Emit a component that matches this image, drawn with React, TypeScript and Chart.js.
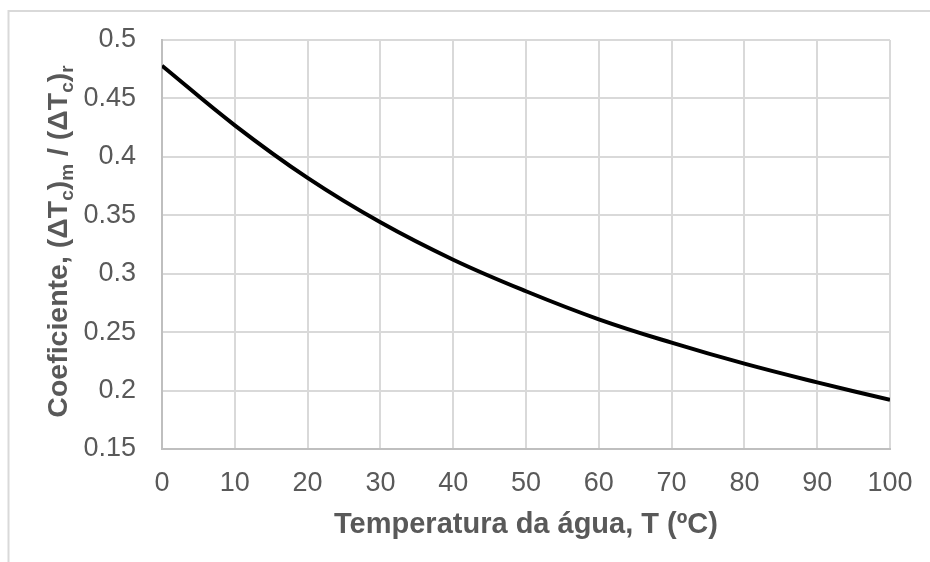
import React, { useEffect, useRef } from "react";
import { Chart, registerables } from "chart.js";

Chart.register(...registerables);

const TEMPS = [0, 10, 20, 30, 40, 50, 60, 70, 80, 90, 100];
const COEF = [0.478, 0.427, 0.382, 0.344, 0.312, 0.285, 0.261, 0.241, 0.223, 0.207, 0.192];
const X_TICKS = [0, 10, 20, 30, 40, 50, 60, 70, 80, 90, 100];
const X_LABELS = ["0", "10", "20", "30", "40", "50", "60", "70", "80", "90", "100"];
const Y_TICKS = [0.15, 0.2, 0.25, 0.3, 0.35, 0.4, 0.45, 0.5];
const Y_LABELS = ["0.15", "0.2", "0.25", "0.3", "0.35", "0.4", "0.45", "0.5"];
const X_TITLE = "Temperatura da água, T (ºC)";
const Y_TITLE_PARTS: { t: string; sub: boolean }[] = [
  { t: "Coeficiente, (ΔT", sub: false },
  { t: "c", sub: true },
  { t: ")", sub: false },
  { t: "m", sub: true },
  { t: " / (ΔT", sub: false },
  { t: "c", sub: true },
  { t: ")", sub: false },
  { t: "r", sub: true },
];

const FAMILY = '"Liberation Sans", Arial, sans-serif';
const TEXT = "#595959";
const GRID = "#d9d9d9";
const AXIS = "#bfbfbf";
const TICK_SIZE = 27;
const X_TITLE_SIZE = 29;
const Y_TITLE_SIZE = 28.5;

const decorPlugin = {
  id: "decor",
  beforeDraw(chart: any) {
    const ctx = chart.ctx;
    ctx.save();
    ctx.fillStyle = "#ffffff";
    ctx.fillRect(0, 0, chart.width, chart.height);
    ctx.strokeStyle = GRID;
    ctx.lineWidth = 2;
    ctx.beginPath();
    ctx.moveTo(8.5, chart.height);
    ctx.lineTo(8.5, 11);
    ctx.lineTo(chart.width, 11);
    ctx.stroke();
    ctx.restore();
  },
  afterDraw(chart: any) {
    const ctx = chart.ctx;
    const area = chart.chartArea;
    ctx.save();
    ctx.fillStyle = TEXT;
    ctx.font = `bold ${X_TITLE_SIZE}px ${FAMILY}`;
    ctx.textAlign = "center";
    ctx.textBaseline = "alphabetic";
    ctx.fillText(X_TITLE, (area.left + area.right) / 2, 533);

    // y title with subscripts
    const subSize = Math.round(Y_TITLE_SIZE * 0.66);
    const widths = Y_TITLE_PARTS.map((p) => {
      ctx.font = `bold ${p.sub ? subSize : Y_TITLE_SIZE}px ${FAMILY}`;
      return ctx.measureText(p.t).width;
    });
    const total = widths.reduce((a, b) => a + b, 0);
    ctx.translate(67, 241.5);
    ctx.rotate(-Math.PI / 2);
    ctx.textAlign = "left";
    let x = -total / 2;
    Y_TITLE_PARTS.forEach((p, i) => {
      ctx.font = `bold ${p.sub ? subSize : Y_TITLE_SIZE}px ${FAMILY}`;
      ctx.fillText(p.t, x, p.sub ? 6 : 0);
      x += widths[i];
    });
    ctx.restore();
  },
};

export default function App() {
  const ref = useRef<HTMLCanvasElement>(null);
  useEffect(() => {
    if (!ref.current) return;
    const chart = new Chart(ref.current, {
      type: "line",
      data: {
        datasets: [
          {
            data: TEMPS.map((t, i) => ({ x: t, y: COEF[i] })),
            borderColor: "#000000",
            borderWidth: 4,
            pointRadius: 0,
            tension: 0.4,
            fill: false,
          },
        ],
      },
      options: {
        responsive: false,
        animation: false,
        layout: { padding: { left: 0, top: 40, right: 40, bottom: 0 } },
        plugins: { legend: { display: false }, tooltip: { enabled: false } },
        scales: {
          x: {
            type: "linear",
            min: 0,
            max: 100,
            afterBuildTicks: (s: any) => {
              s.ticks = X_TICKS.map((v) => ({ value: v }));
            },
            afterFit: (s: any) => {
              s.height = 113;
              s.paddingLeft = 0;
              s.paddingRight = 0;
            },
            ticks: {
              padding: 18,
              color: TEXT,
              font: { family: FAMILY, size: TICK_SIZE },
              maxRotation: 0,
              autoSkip: false,
              callback: (v: any) => X_LABELS[X_TICKS.indexOf(Number(v))] ?? "",
            },
            grid: { color: GRID, lineWidth: 2, drawTicks: false },
            border: { color: AXIS, width: 2 },
          },
          y: {
            type: "linear",
            min: 0.15,
            max: 0.5,
            afterBuildTicks: (s: any) => {
              s.ticks = Y_TICKS.map((v) => ({ value: v }));
            },
            afterFit: (s: any) => {
              s.width = 162;
              s.paddingTop = 0;
              s.paddingBottom = 0;
            },
            ticks: {
              padding: 26,
              color: TEXT,
              font: { family: FAMILY, size: TICK_SIZE },
              autoSkip: false,
              callback: (v: any) => {
                const i = Y_TICKS.findIndex((t) => Math.abs(t - Number(v)) < 1e-9);
                return i >= 0 ? Y_LABELS[i] : "";
              },
            },
            grid: { color: GRID, lineWidth: 2, drawTicks: false },
            border: { color: AXIS, width: 2 },
          },
        },
      },
      plugins: [decorPlugin],
    } as any);
    return () => chart.destroy();
  }, []);
  return (
    <div style={{ position: "fixed", left: 0, top: 0, width: 930, height: 562, background: "#fff" }}>
      <canvas ref={ref} width={930} height={562} style={{ width: 930, height: 562, display: "block" }} />
    </div>
  );
}
